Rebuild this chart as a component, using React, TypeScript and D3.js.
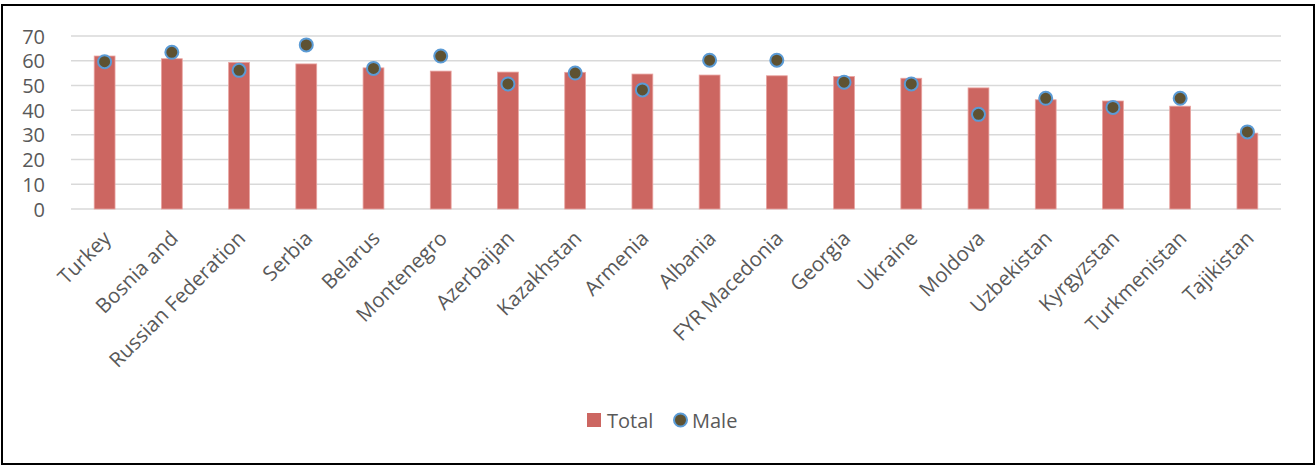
import React from "react";
import * as d3 from "d3";

const countries = [
  "Turkey", "Bosnia and", "Russian Federation", "Serbia", "Belarus", "Montenegro",
  "Azerbaijan", "Kazakhstan", "Armenia", "Albania", "FYR Macedonia", "Georgia",
  "Ukraine", "Moldova", "Uzbekistan", "Kyrgyzstan", "Turkmenistan", "Tajikistan",
];
const totalValues = [
  61.9, 60.8, 59.3, 58.7, 57.1, 55.8, 55.4, 55.3, 54.6, 54.2, 53.9, 53.6,
  52.9, 49.0, 44.2, 43.7, 41.6, 30.7,
];
const maleValues = [
  59.6, 63.4, 56.1, 66.4, 56.9, 61.9, 50.6, 55.0, 48.2, 60.2, 60.2, 51.3,
  50.6, 38.3, 44.8, 41.1, 44.8, 31.2,
];
const yTicks = [0, 10, 20, 30, 40, 50, 60, 70];

const W = 1316;
const H = 466;
const FONT = "'Open Sans', 'Liberation Sans', sans-serif";
const TEXT = "#595959";
const BAR = "#cc6661";
const DOT_FILL = "#5e5232";
const DOT_STROKE = "#5b9bd5";

export default function App() {
  const x = d3
    .scaleBand<string>()
    .domain(countries)
    .range([71, 1281])
    .paddingInner(0.69)
    .paddingOuter(0.345);
  const y = d3.scaleLinear().domain([0, 70]).range([209, 36]);
  const cx = (c: string) => (x(c) ?? 0) + x.bandwidth() / 2;

  return (
    <svg
      width={W}
      height={H}
      style={{ position: "absolute", left: 0, top: 0, background: "#fff" }}
      fontFamily={FONT}
    >
      <rect x={2} y={5} width={1312} height={459} fill="#fff" stroke="#000" strokeWidth={2} />

      {/* gridlines */}
      {yTicks.map((t) => (
        <line key={t} x1={71} x2={1281} y1={y(t)} y2={y(t)} stroke="#d9d9d9" strokeWidth={1.5} />
      ))}
      {yTicks.map((t) => (
        <text
          key={"l" + t}
          x={45}
          y={y(t)}
          textAnchor="end"
          dominantBaseline="central"
          fontSize={20}
          fill={TEXT}
        >
          {t}
        </text>
      ))}

      {/* Total bars */}
      {countries.map((c, i) => (
        <rect
          key={"b" + c}
          x={x(c)}
          y={y(totalValues[i])}
          width={x.bandwidth()}
          height={y(0) - y(totalValues[i])}
          fill={BAR}
          stroke="#e9a3a0"
          strokeWidth={0.8}
        />
      ))}

      {/* Male markers */}
      {countries.map((c, i) => (
        <circle
          key={"m" + c}
          cx={cx(c)}
          cy={y(maleValues[i])}
          r={6.5}
          fill={DOT_FILL}
          stroke={DOT_STROKE}
          strokeWidth={2}
        />
      ))}

      {/* category labels */}
      {countries.map((c) => (
        <text
          key={"x" + c}
          transform={`translate(${cx(c) + 2},${234}) rotate(-45)`}
          textAnchor="end"
          dominantBaseline="central"
          fontSize={20.5}
          fill={TEXT}
        >
          {c}
        </text>
      ))}

      {/* legend */}
      <rect x={587} y={413} width={14} height={14} fill={BAR} />
      <text x={607} y={420} dominantBaseline="central" fontSize={20} fill={TEXT}>
        Total
      </text>
      <circle cx={680.5} cy={420} r={6.5} fill={DOT_FILL} stroke={DOT_STROKE} strokeWidth={2} />
      <text x={692} y={420} dominantBaseline="central" fontSize={20} fill={TEXT}>
        Male
      </text>
    </svg>
  );
}
